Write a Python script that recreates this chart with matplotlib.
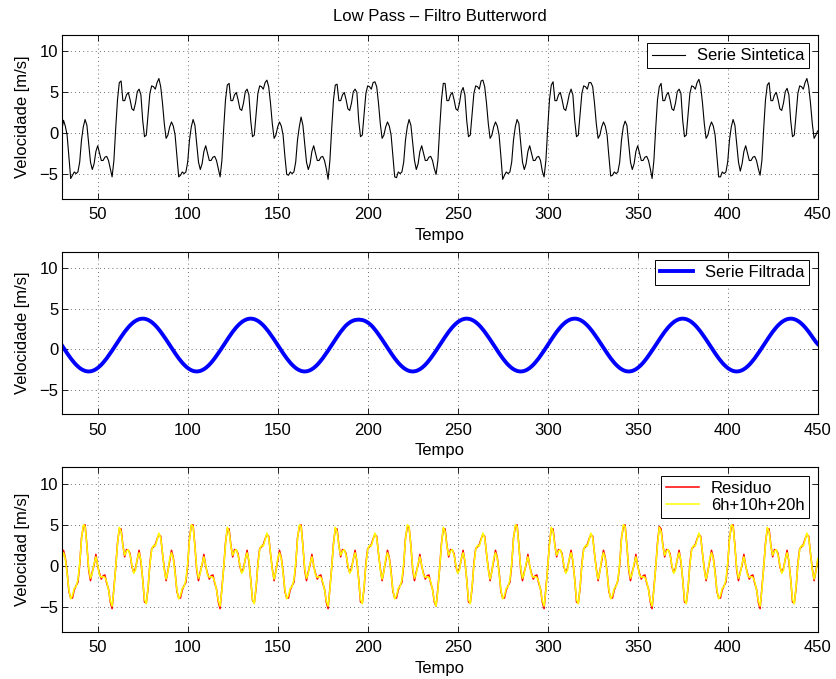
import matplotlib
matplotlib.use('Agg')
import matplotlib.pyplot as plt

plt.rcParams['font.family'] = ['Liberation Sans', 'DejaVu Sans']
plt.rcParams['font.size'] = 12
plt.rcParams['axes.unicode_minus'] = True

# ---------------- data ----------------
tempo = list(range(30, 451))

serie_sintetica = [
    0.3, 1.6, 0.9, -0.2, -2.8, -5.5, -5.1, -4.7, -4.9, -4.7, -3.5, -0.8, 0.8, 1.7, 1.0, -1.2, -3.5, -4.4, -3.7, -2.2,
    -1.5, -2.4, -3.3, -3.3, -2.9, -2.8, -3.3, -4.3, -5.3, -3.3, 0.6, 4.1, 6.2, 6.4, 4.0, 4.0, 4.7, 5.0, 4.1, 3.0,
    2.8, 3.7, 5.1, 5.4, 4.7, 1.6, -0.4, -0.2, 2.4, 4.9, 5.8, 5.7, 5.4, 6.2, 6.7, 5.7, 3.7, 1.2, -0.6, -0.2,
    0.8, 1.4, 0.9, -0.2, -2.8, -5.3, -5.1, -4.7, -4.9, -4.7, -3.5, -0.8, 0.8, 1.7, 1.0, -1.2, -3.5, -4.4, -3.7, -2.2,
    -1.5, -2.4, -3.3, -3.3, -2.9, -2.8, -3.3, -4.3, -5.3, -3.3, 0.6, 4.1, 5.9, 6.1, 4.0, 4.0, 4.7, 5.0, 4.1, 3.0,
    2.8, 3.7, 5.1, 5.4, 4.7, 1.6, -0.4, -0.2, 2.4, 4.9, 5.8, 5.7, 5.4, 6.2, 6.5, 5.7, 3.7, 1.2, -0.6, -0.2,
    0.8, 1.4, 0.9, -0.2, -2.8, -5.0, -5.1, -4.7, -4.9, -4.7, -3.5, -0.8, 0.8, 2.0, 1.0, -1.2, -3.5, -4.4, -3.7, -2.2,
    -1.5, -2.4, -3.3, -3.3, -2.9, -2.8, -3.3, -4.3, -5.6, -3.3, 0.6, 4.1, 5.9, 6.0, 4.0, 4.0, 4.7, 5.0, 4.1, 3.0,
    2.8, 3.7, 5.1, 5.4, 5.0, 1.6, -0.4, -0.2, 2.4, 4.9, 5.8, 5.7, 5.4, 6.2, 6.3, 5.7, 3.7, 1.2, -0.6, -0.2,
    0.8, 1.4, 0.9, -0.2, -2.8, -5.3, -5.4, -4.7, -4.9, -4.7, -3.5, -0.8, 0.8, 1.7, 1.0, -1.2, -3.3, -4.4, -3.7, -2.2,
    -1.5, -2.4, -3.3, -3.3, -2.9, -2.8, -3.3, -4.3, -5.0, -3.3, 0.6, 4.1, 6.1, 6.1, 4.0, 4.0, 4.7, 5.0, 4.1, 3.0,
    2.8, 3.7, 5.1, 5.6, 4.7, 1.6, -0.4, -0.2, 2.4, 4.9, 5.8, 5.7, 5.4, 6.4, 6.5, 5.7, 3.7, 1.2, -0.6, -0.2,
    0.8, 1.4, 0.9, -0.2, -2.8, -5.6, -5.1, -4.7, -4.9, -4.7, -3.5, -0.8, 0.8, 1.7, 1.2, -1.2, -3.5, -4.4, -3.7, -2.2,
    -1.5, -2.4, -3.3, -3.3, -2.9, -2.8, -3.3, -4.6, -5.3, -3.3, 0.6, 4.1, 5.9, 6.3, 4.0, 4.0, 4.7, 5.0, 4.1, 3.0,
    2.8, 3.7, 4.8, 5.4, 4.7, 1.6, -0.4, -0.2, 2.4, 4.9, 5.8, 5.7, 5.4, 6.2, 6.2, 5.7, 3.7, 1.2, -0.6, -0.2,
    0.8, 1.4, 0.9, -0.2, -2.8, -5.2, -5.1, -4.7, -4.9, -4.7, -3.5, -0.8, 0.8, 1.5, 1.0, -1.2, -3.5, -4.4, -3.7, -2.2,
    -1.5, -2.4, -3.3, -3.3, -2.9, -2.8, -3.3, -4.3, -5.5, -3.3, 0.6, 4.1, 5.7, 6.1, 4.0, 4.0, 4.7, 5.0, 4.1, 3.0,
    2.8, 3.7, 5.1, 5.4, 4.9, 1.6, -0.4, -0.2, 2.4, 4.9, 5.8, 5.7, 5.4, 6.2, 6.6, 5.7, 3.7, 1.2, -0.6, -0.2,
    0.8, 1.4, 0.9, -0.2, -2.8, -5.3, -5.3, -4.7, -4.9, -4.7, -3.5, -0.8, 0.8, 1.7, 1.0, -1.2, -3.5, -4.6, -3.7, -2.2,
    -1.5, -2.4, -3.3, -3.3, -2.9, -2.8, -3.3, -4.3, -5.1, -3.3, 0.6, 4.1, 5.9, 6.2, 4.0, 4.0, 4.7, 5.0, 4.1, 3.0,
    2.8, 3.7, 5.1, 5.5, 4.7, 1.6, -0.4, -0.2, 2.4, 4.9, 5.8, 5.7, 5.4, 6.2, 6.7, 5.7, 3.7, 1.2, -0.6, -0.2,
    0.3,
]

serie_filtrada = [
    0.52, 0.18, -0.16, -0.48, -0.80, -1.11, -1.39, -1.66, -1.90, -2.11, -2.30, -2.45, -2.57, -2.66, -2.71, -2.73, -2.71, -2.66, -2.57, -2.45,
    -2.30, -2.11, -1.90, -1.66, -1.39, -1.11, -0.80, -0.48, -0.16, 0.18, 0.52, 0.86, 1.20, 1.52, 1.84, 2.15, 2.43, 2.70, 2.94, 3.15,
    3.34, 3.49, 3.61, 3.70, 3.75, 3.77, 3.75, 3.70, 3.61, 3.49, 3.34, 3.15, 2.94, 2.70, 2.43, 2.15, 1.84, 1.52, 1.20, 0.86,
    0.52, 0.18, -0.16, -0.48, -0.80, -1.11, -1.39, -1.66, -1.90, -2.11, -2.30, -2.45, -2.57, -2.66, -2.71, -2.73, -2.71, -2.66, -2.57, -2.45,
    -2.30, -2.11, -1.90, -1.66, -1.39, -1.11, -0.80, -0.48, -0.16, 0.18, 0.52, 0.86, 1.20, 1.52, 1.84, 2.15, 2.43, 2.70, 2.94, 3.15,
    3.34, 3.49, 3.61, 3.70, 3.75, 3.77, 3.75, 3.70, 3.61, 3.49, 3.34, 3.15, 2.94, 2.70, 2.43, 2.15, 1.84, 1.52, 1.20, 0.86,
    0.52, 0.18, -0.16, -0.48, -0.80, -1.11, -1.39, -1.66, -1.90, -2.11, -2.30, -2.45, -2.57, -2.66, -2.71, -2.73, -2.71, -2.66, -2.57, -2.45,
    -2.30, -2.11, -1.90, -1.66, -1.39, -1.11, -0.80, -0.48, -0.16, 0.18, 0.52, 0.86, 1.20, 1.52, 1.84, 2.15, 2.43, 2.70, 2.94, 3.13,
    3.30, 3.43, 3.53, 3.60, 3.63, 3.65, 3.63, 3.60, 3.53, 3.43, 3.30, 3.13, 2.94, 2.70, 2.43, 2.15, 1.84, 1.52, 1.20, 0.86,
    0.52, 0.18, -0.16, -0.48, -0.80, -1.11, -1.39, -1.66, -1.90, -2.11, -2.30, -2.45, -2.57, -2.66, -2.71, -2.73, -2.71, -2.66, -2.57, -2.45,
    -2.30, -2.11, -1.90, -1.66, -1.39, -1.11, -0.80, -0.48, -0.16, 0.18, 0.52, 0.86, 1.20, 1.52, 1.84, 2.15, 2.43, 2.70, 2.94, 3.15,
    3.34, 3.49, 3.61, 3.70, 3.75, 3.77, 3.75, 3.70, 3.61, 3.49, 3.34, 3.15, 2.94, 2.70, 2.43, 2.15, 1.84, 1.52, 1.20, 0.86,
    0.52, 0.18, -0.16, -0.48, -0.80, -1.11, -1.39, -1.66, -1.90, -2.11, -2.30, -2.45, -2.57, -2.66, -2.71, -2.73, -2.71, -2.66, -2.57, -2.45,
    -2.30, -2.11, -1.90, -1.66, -1.39, -1.11, -0.80, -0.48, -0.16, 0.18, 0.52, 0.86, 1.20, 1.52, 1.84, 2.15, 2.43, 2.70, 2.94, 3.15,
    3.34, 3.49, 3.61, 3.70, 3.75, 3.77, 3.75, 3.70, 3.61, 3.49, 3.34, 3.15, 2.94, 2.70, 2.43, 2.15, 1.84, 1.52, 1.20, 0.86,
    0.52, 0.18, -0.16, -0.48, -0.80, -1.11, -1.39, -1.66, -1.90, -2.11, -2.30, -2.45, -2.57, -2.66, -2.71, -2.73, -2.71, -2.66, -2.57, -2.45,
    -2.30, -2.11, -1.90, -1.66, -1.39, -1.11, -0.80, -0.48, -0.16, 0.18, 0.52, 0.86, 1.20, 1.52, 1.84, 2.15, 2.43, 2.70, 2.94, 3.15,
    3.34, 3.49, 3.61, 3.70, 3.75, 3.77, 3.75, 3.70, 3.61, 3.49, 3.34, 3.15, 2.94, 2.70, 2.43, 2.15, 1.84, 1.52, 1.20, 0.86,
    0.52, 0.18, -0.16, -0.48, -0.80, -1.11, -1.39, -1.66, -1.90, -2.11, -2.30, -2.45, -2.57, -2.66, -2.71, -2.73, -2.71, -2.66, -2.57, -2.45,
    -2.30, -2.11, -1.90, -1.66, -1.39, -1.11, -0.80, -0.48, -0.16, 0.18, 0.52, 0.86, 1.20, 1.52, 1.84, 2.15, 2.43, 2.70, 2.94, 3.15,
    3.34, 3.49, 3.61, 3.70, 3.75, 3.77, 3.75, 3.70, 3.61, 3.49, 3.34, 3.15, 2.94, 2.70, 2.43, 2.15, 1.84, 1.52, 1.20, 0.90,
    0.65,
]

residuo = [
    0.6, 1.9, 1.0, -0.7, -3.1, -3.9, -3.9, -2.9, -2.4, -2.0, 0.1, 3.4, 4.7, 5.0, 2.5, -0.5, -1.8, -0.7, 0.1, 1.4,
    0.0, -0.9, -1.6, -1.2, -1.1, -2.1, -2.8, -4.4, -5.2, -2.7, -0.2, 2.8, 4.5, 4.5, 2.5, 1.1, 2.0, 1.9, 1.5, -0.1,
    -0.8, -0.3, 0.8, 1.9, 0.5, -1.6, -4.4, -4.5, -2.7, 0.3, 2.1, 2.3, 2.6, 3.3, 3.8, 3.6, 1.5, -0.3, -1.8, -0.6,
    0.6, 1.9, 1.0, -0.7, -3.1, -3.9, -3.9, -2.9, -2.4, -2.0, 0.1, 3.4, 4.9, 5.0, 2.5, -0.5, -1.8, -0.7, 0.1, 1.4,
    0.0, -0.9, -1.6, -1.2, -1.1, -2.1, -2.8, -4.4, -5.2, -2.7, -0.2, 2.8, 4.5, 4.5, 2.5, 1.1, 2.0, 1.9, 1.5, -0.1,
    -0.8, -0.3, 0.8, 1.9, 0.5, -1.6, -4.2, -4.5, -2.7, 0.3, 2.1, 2.3, 2.6, 3.3, 3.8, 3.6, 1.5, -0.3, -1.8, -0.6,
    0.6, 1.9, 1.0, -0.7, -3.1, -3.9, -3.9, -2.9, -2.4, -2.0, 0.1, 3.4, 4.7, 5.0, 2.5, -0.5, -1.8, -0.7, 0.1, 1.4,
    0.0, -0.9, -1.6, -1.2, -1.1, -2.1, -2.8, -4.4, -5.2, -2.7, -0.2, 2.8, 4.5, 4.5, 2.5, 1.1, 2.0, 1.9, 1.5, -0.1,
    -0.8, -0.3, 0.8, 1.9, 0.5, -1.6, -4.4, -4.5, -2.7, 0.3, 2.1, 2.3, 2.6, 3.3, 3.8, 3.6, 1.5, -0.3, -1.8, -0.6,
    0.6, 1.9, 1.0, -0.7, -3.1, -3.9, -3.9, -2.9, -2.4, -2.0, 0.1, 3.4, 4.7, 4.7, 2.5, -0.5, -1.8, -0.7, 0.1, 1.4,
    0.0, -0.9, -1.6, -1.2, -1.1, -2.1, -2.8, -4.4, -4.9, -2.7, -0.2, 2.8, 4.5, 4.5, 2.5, 1.1, 2.0, 1.9, 1.5, -0.1,
    -0.8, -0.3, 0.8, 1.9, 0.5, -1.6, -4.4, -4.5, -2.7, 0.3, 2.1, 2.3, 2.6, 3.3, 3.8, 3.6, 1.5, -0.3, -1.8, -0.6,
    0.6, 1.9, 1.0, -0.7, -3.1, -3.9, -3.9, -2.9, -2.4, -2.0, 0.1, 3.4, 4.7, 5.0, 2.5, -0.5, -1.8, -0.7, 0.1, 1.4,
    0.0, -0.9, -1.6, -1.2, -1.1, -2.1, -2.8, -4.4, -5.2, -2.7, -0.2, 2.8, 4.5, 4.5, 2.5, 1.1, 2.0, 1.9, 1.5, -0.1,
    -0.8, -0.3, 0.8, 1.9, 0.5, -1.6, -4.4, -4.5, -2.7, 0.3, 2.1, 2.3, 2.6, 3.3, 3.8, 3.6, 1.5, -0.3, -1.8, -0.6,
    0.6, 1.9, 1.0, -0.7, -3.1, -3.9, -3.9, -2.9, -2.4, -1.8, 0.1, 3.4, 4.7, 5.0, 2.5, -0.5, -1.8, -0.7, 0.1, 1.4,
    0.0, -0.9, -1.6, -1.2, -1.1, -2.1, -2.8, -4.4, -5.2, -2.7, -0.2, 2.8, 4.8, 4.5, 2.5, 1.1, 2.0, 1.9, 1.5, -0.1,
    -0.8, -0.3, 0.8, 1.9, 0.5, -1.6, -4.4, -4.5, -2.7, 0.3, 2.1, 2.3, 2.6, 3.3, 3.8, 3.6, 1.5, -0.3, -1.8, -0.6,
    0.6, 1.9, 1.0, -0.7, -3.1, -3.9, -3.9, -2.9, -2.4, -2.0, 0.1, 3.4, 4.7, 5.0, 2.5, -0.5, -1.8, -0.7, 0.1, 1.4,
    0.0, -0.9, -1.6, -1.2, -1.1, -2.1, -2.8, -4.4, -5.2, -2.7, -0.2, 2.8, 4.5, 4.5, 2.5, 1.1, 2.0, 1.9, 1.5, -0.1,
    -0.8, -0.3, 0.8, 1.9, 0.5, -1.6, -4.4, -4.5, -2.7, 0.3, 2.1, 2.3, 2.6, 3.3, 3.8, 3.6, 1.5, -0.3, -1.8, -0.6,
    0.6,
]

armonicos_6h_10h_20h = [
    0.9, 1.6, 0.9, -0.9, -2.9, -4.0, -3.6, -2.7, -2.5, -1.7, 0.3, 3.2, 5.0, 4.8, 2.4, -0.3, -1.5, -0.9, 0.3, 1.1,
    0.1, -1.1, -1.4, -1.3, -1.4, -1.9, -2.9, -4.2, -4.9, -2.9, -0.1, 2.6, 4.7, 4.2, 2.4, 1.3, 1.8, 2.0, 1.3, 0.1,
    -0.9, -0.5, 0.9, 1.6, 0.7, -1.7, -4.1, -4.6, -2.5, 0.1, 2.0, 2.5, 2.4, 3.2, 4.0, 3.4, 1.6, -0.5, -1.6, -0.7,
    0.9, 1.6, 0.9, -0.9, -2.9, -4.0, -3.6, -2.7, -2.5, -1.7, 0.3, 3.2, 5.0, 4.8, 2.4, -0.3, -1.5, -0.9, 0.3, 1.1,
    0.1, -1.1, -1.4, -1.3, -1.4, -1.9, -2.9, -4.2, -4.9, -2.9, -0.1, 2.6, 4.7, 4.2, 2.4, 1.3, 1.8, 2.0, 1.3, 0.1,
    -0.9, -0.5, 0.9, 1.6, 0.7, -1.7, -4.1, -4.6, -2.5, 0.1, 2.0, 2.5, 2.4, 3.2, 4.0, 3.4, 1.6, -0.5, -1.6, -0.7,
    0.9, 1.6, 0.9, -0.9, -2.9, -4.0, -3.6, -2.7, -2.5, -1.7, 0.3, 3.2, 5.0, 4.8, 2.4, -0.3, -1.5, -0.9, 0.3, 1.1,
    0.1, -1.1, -1.4, -1.3, -1.4, -1.9, -2.9, -4.2, -4.9, -2.9, -0.1, 2.6, 4.7, 4.2, 2.4, 1.3, 1.8, 2.0, 1.3, 0.1,
    -0.9, -0.5, 0.9, 1.6, 0.7, -1.7, -4.1, -4.6, -2.5, 0.1, 2.0, 2.5, 2.4, 3.2, 4.0, 3.4, 1.6, -0.5, -1.6, -0.7,
    0.9, 1.6, 0.9, -0.9, -2.9, -4.0, -3.6, -2.7, -2.5, -1.7, 0.3, 3.2, 5.0, 4.8, 2.4, -0.3, -1.5, -0.9, 0.3, 1.1,
    0.1, -1.1, -1.4, -1.3, -1.4, -1.9, -2.9, -4.2, -4.9, -2.9, -0.1, 2.6, 4.7, 4.2, 2.4, 1.3, 1.8, 2.0, 1.3, 0.1,
    -0.9, -0.5, 0.9, 1.6, 0.7, -1.7, -4.1, -4.6, -2.5, 0.1, 2.0, 2.5, 2.4, 3.2, 4.0, 3.4, 1.6, -0.5, -1.6, -0.7,
    0.9, 1.6, 0.9, -0.9, -2.9, -4.0, -3.6, -2.7, -2.5, -1.7, 0.3, 3.2, 5.0, 4.8, 2.4, -0.3, -1.5, -0.9, 0.3, 1.1,
    0.1, -1.1, -1.4, -1.3, -1.4, -1.9, -2.9, -4.2, -4.9, -2.9, -0.1, 2.6, 4.7, 4.2, 2.4, 1.3, 1.8, 2.0, 1.3, 0.1,
    -0.9, -0.5, 0.9, 1.6, 0.7, -1.7, -4.1, -4.6, -2.5, 0.1, 2.0, 2.5, 2.4, 3.2, 4.0, 3.4, 1.6, -0.5, -1.6, -0.7,
    0.9, 1.6, 0.9, -0.9, -2.9, -4.0, -3.6, -2.7, -2.5, -1.7, 0.3, 3.2, 5.0, 4.8, 2.4, -0.3, -1.5, -0.9, 0.3, 1.1,
    0.1, -1.1, -1.4, -1.3, -1.4, -1.9, -2.9, -4.2, -4.9, -2.9, -0.1, 2.6, 4.7, 4.2, 2.4, 1.3, 1.8, 2.0, 1.3, 0.1,
    -0.9, -0.5, 0.9, 1.6, 0.7, -1.7, -4.1, -4.6, -2.5, 0.1, 2.0, 2.5, 2.4, 3.2, 4.0, 3.4, 1.6, -0.5, -1.6, -0.7,
    0.9, 1.6, 0.9, -0.9, -2.9, -4.0, -3.6, -2.7, -2.5, -1.7, 0.3, 3.2, 5.0, 4.8, 2.4, -0.3, -1.5, -0.9, 0.3, 1.1,
    0.1, -1.1, -1.4, -1.3, -1.4, -1.9, -2.9, -4.2, -4.9, -2.9, -0.1, 2.6, 4.7, 4.2, 2.4, 1.3, 1.8, 2.0, 1.3, 0.1,
    -0.9, -0.5, 0.9, 1.6, 0.7, -1.7, -4.1, -4.6, -2.5, 0.1, 2.0, 2.5, 2.4, 3.2, 4.0, 3.4, 1.6, -0.5, -1.6, -0.7,
    0.9,
]

x_ticks = [50, 100, 150, 200, 250, 300, 350, 400, 450]
y_ticks = [-5, 0, 5, 10]
x_limits = (30, 450)
y_limits = (-8, 12)

titulo = 'Low Pass \u2013 Filtro Butterword'
ylabels = ['Velocidade [m/s]', 'Velocidade [m/s]', 'Velocidad [m/s]']

# ---------------- figure ----------------
fig = plt.figure(figsize=(8.36, 6.79), dpi=100)
rects = [
    (0.0738, 0.7069, 0.9043, 0.2415),
    (0.0738, 0.3898, 0.9043, 0.2395),
    (0.0738, 0.0697, 0.9043, 0.2421),
]
axes = [fig.add_axes(r) for r in rects]

ax1, ax2, ax3 = axes
ax1.plot(tempo, serie_sintetica, color='black', lw=0.8, label='Serie Sintetica')
ax2.plot(tempo, serie_filtrada, color=(0, 0, 1), lw=2.8, label='Serie Filtrada')
ax3.plot(tempo, residuo, color=(1, 0, 0), lw=1.1, label='Residuo')
ax3.plot(tempo, armonicos_6h_10h_20h, color=(1, 1, 0), lw=1.1, label='6h+10h+20h')

for ax, yl in zip(axes, ylabels):
    ax.set_xlim(*x_limits)
    ax.set_ylim(*y_limits)
    ax.set_xticks(x_ticks)
    ax.set_yticks(y_ticks)
    ax.grid(True, linestyle=(0, (1, 4)), color='0.25', linewidth=0.6)
    ax.tick_params(direction='in', top=True, right=True, length=4, width=0.6,
                   labelsize=12)
    ax.tick_params(axis='y', pad=2.5)
    ax.tick_params(axis='x', pad=6)
    for s in ax.spines.values():
        s.set_linewidth(0.8)
        s.set_color('black')
    ax.set_xlabel('Tempo', fontsize=12, labelpad=4)
    ax.set_ylabel(yl, fontsize=12, labelpad=7)
    leg = ax.legend(loc='upper right', fancybox=False, framealpha=1,
                    edgecolor='black', fontsize=12, borderaxespad=0.5,
                    handlelength=2.0, borderpad=0.3, labelspacing=0.15,
                    handletextpad=0.7)
    leg.get_frame().set_linewidth(0.7)

ax1.set_title(titulo, fontsize=12, pad=10)

fig.savefig('out.png', dpi=100)
